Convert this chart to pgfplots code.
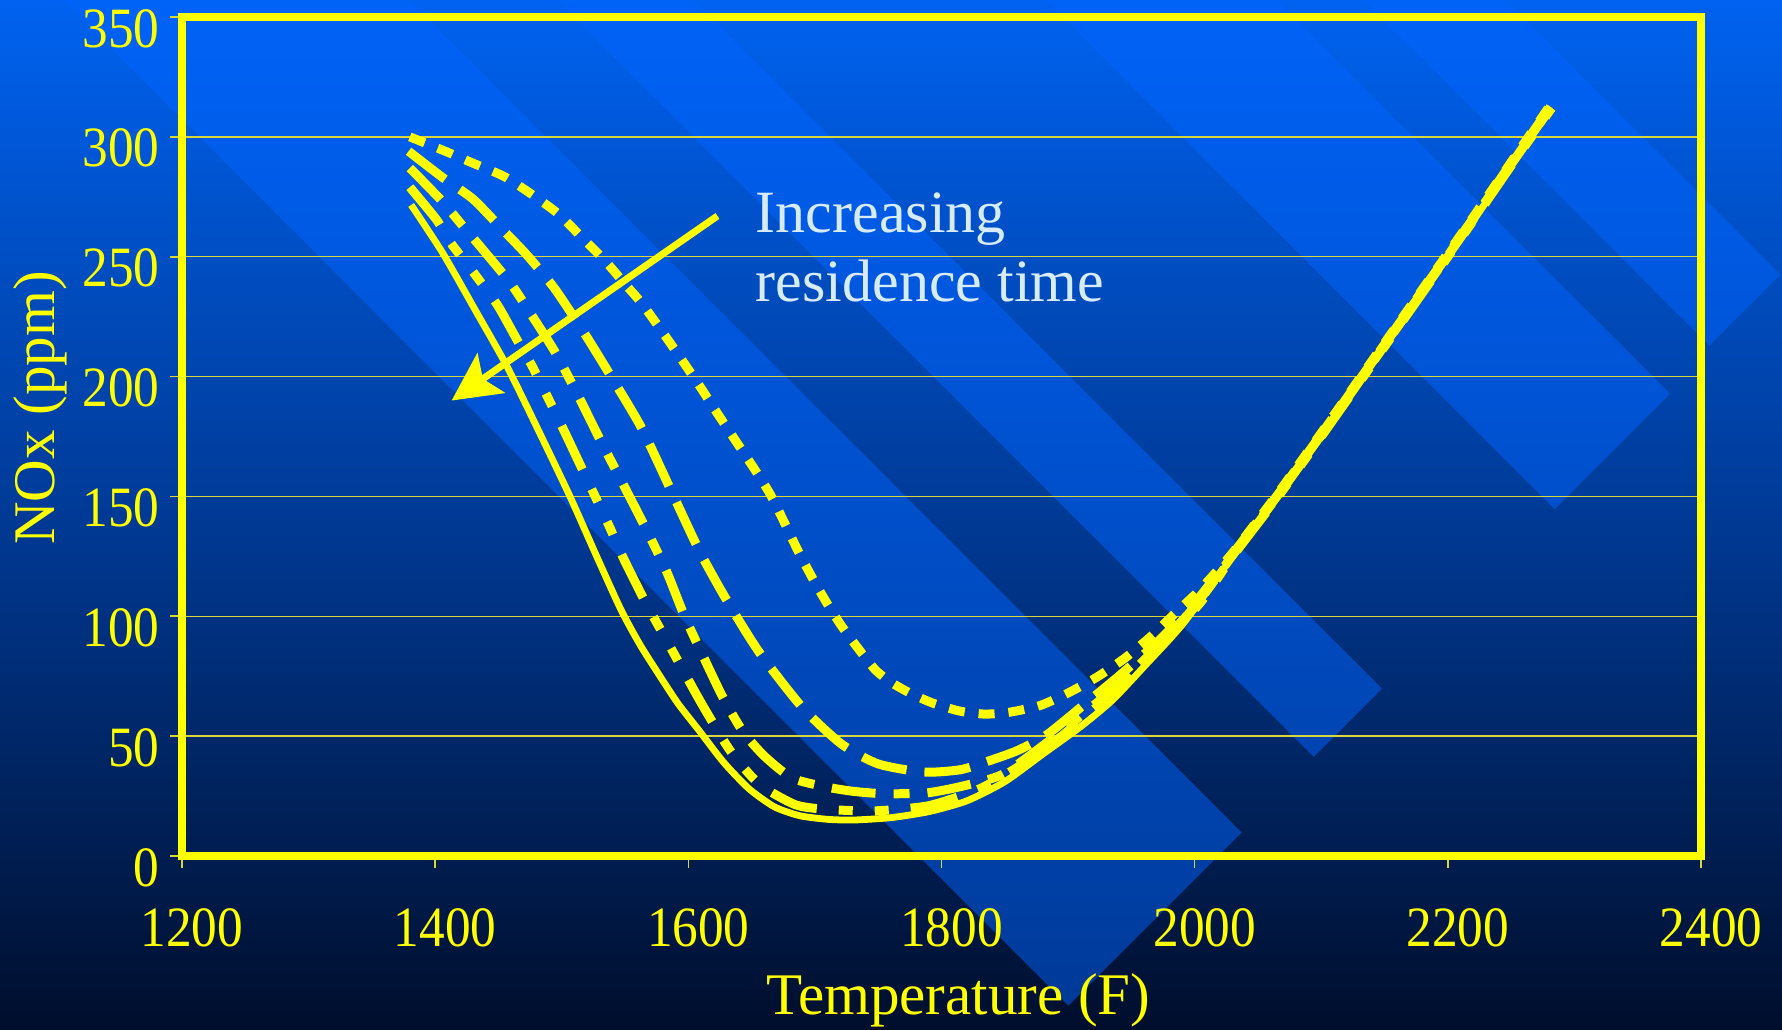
\documentclass[border=0pt]{standalone}
\usepackage{fontspec}
\setmainfont{Liberation Serif}
\newfontfamily\tickfont{Liberation Serif}[FakeStretch=0.9]
\usepackage{pgfplots}
\pgfplotsset{compat=1.18}
\usetikzlibrary{arrows.meta}
\definecolor{bgtop}{RGB}{0,98,240}
\definecolor{bgmid}{RGB}{0,58,150}
\definecolor{bgbot}{RGB}{0,14,44}
\definecolor{band}{RGB}{0,100,255}
\definecolor{ylw}{RGB}{255,255,0}
\definecolor{txtblue}{RGB}{215,235,255}
\definecolor{gridc}{RGB}{215,215,60}
\begin{document}
\begin{tikzpicture}
\useasboundingbox (-91pt,-86.5pt) rectangle (800pt,428pt);
\shade[top color=bgtop, bottom color=bgbot, middle color=bgmid] (-91pt,-86.5pt) rectangle (800pt,428pt);
\begin{scope}[shift={(-91pt,428pt)}, x=0.56824pt, y=-0.56824pt]
  \clip (0,0) rectangle (1568,905);
  \fill[band, opacity=0.5] (-72.5,-127.5) -- (940,885) -- (1092.5,732.5) -- (80,-280) -- cycle;
  \fill[band, opacity=0.5] (145,-345) -- (1156,666) -- (1216,606) -- (205,-405) -- cycle;
  \fill[band, opacity=0.5] (360,-560) -- (1368,448) -- (1469.5,346.5) -- (461.5,-661.5) -- cycle;
  \fill[band, opacity=0.5] (500,-700) -- (1504,304) -- (1566.5,241.5) -- (562.5,-762.5) -- cycle;
\end{scope}
\begin{axis}[
  overlay,
  at={(0,0)}, anchor=south west,
  width=759.5pt, height=419.5pt, scale only axis,
  xmin=1200, xmax=2400, ymin=0, ymax=350,
  xtick={1200,1400,...,2400}, ytick={0,50,...,350},
  axis line style={ylw, line width=4pt},
  ymajorgrids, grid style={gridc, line width=0.7pt},
  tick style={gridc, line width=0.8pt}, tick align=outside, major tick length=6pt,
  xtick pos=bottom, ytick pos=left,
  ticklabel style={ylw, font=\tickfont\fontsize{28.5}{30}\selectfont},
  /pgf/number format/assume math mode=true, /pgf/number format/1000 sep={},
  scaled ticks=false,
  yticklabel style={anchor=east, inner sep=0pt, xshift=-5pt, yshift=-5.7pt},
  xticklabel style={anchor=base, inner sep=0pt, xshift=5pt, yshift=-39pt},
  xlabel={Temperature (F)}, ylabel={NOx (ppm)},
  label style={ylw, font=\fontsize{29.5}{32}\selectfont},
  xlabel style={at={(axis description cs:0.511,-0.1895)}, anchor=base, inner sep=0pt},
  ylabel style={at={(axis description cs:-0.0935,0.534)}, anchor=center, inner sep=0pt},
  every axis plot/.append style={ylw, line cap=butt, line join=round, smooth, tension=0.4},
]
% A: outermost, short dashes
\addplot[line width=4.5pt, dash pattern=on 8pt off 7pt] coordinates {
(1380,300) (1408,294) (1430,289) (1454,283.6) (1475,276.5) (1497,268) (1516,258) (1533,249) (1551,238) (1564,230) (1587,213) (1609,196) (1625,183) (1654,160) (1665,150.6) (1676,139) (1686,128) (1698,116) (1710,105) (1721,96) (1735,86) (1748,77.5) (1760,72.5) (1775,68) (1793,63.8) (1814,60.5) (1834,59.2) (1854,60) (1878,62.8) (1900,68) (1923,74.7) (1945,82.6) (1965,91.4) (1984,101) (2004,111) (2030,126.5) (2066,151.5) (2100,176.5) (2140,206.5) (2180,236.5) (2220,266.5) (2250,289.5) (2280,312.5)
};
% B: long dashes
\addplot[line width=4.5pt, dash pattern=on 23pt off 9pt] coordinates {
(1379,294) (1406,283) (1430,274) (1452,262) (1472,251) (1494,237) (1518,218) (1539,200) (1563,178.6) (1588,150.6) (1609,127) (1630,107) (1656,85) (1690,62) (1721,46.7) (1750,38.4) (1786,35) (1815,36) (1837,39.6) (1860,44) (1883,50.5) (1910,62) (1940,75) (1970,89) (2000,105.5) (2030,126) (2066,151) (2100,176) (2140,206) (2180,236) (2220,266) (2250,289) (2281,312.5)
};
% C: dash-dot
\addplot[line width=4.5pt, dash pattern=on 22pt off 9pt on 8pt off 9pt] coordinates {
(1380,287) (1404,274) (1420,264) (1440,251.5) (1460,238.6) (1477,225) (1495,210) (1513,192) (1530,174) (1548,155.6) (1567,136) (1583,118.5) (1597,100) (1612,83) (1627,66.5) (1643,52) (1660,41.7) (1682,32.5) (1709,28.8) (1730,27) (1754,26) (1788,26.3) (1817,29.2) (1848,34) (1880,46) (1910,58.5) (1940,71.5) (1970,87) (2000,104) (2030,125.5) (2066,150.5) (2100,175.5) (2140,205.5) (2180,235.5) (2220,265.5) (2250,288.5) (2281,312)
};
% D: dash-dot-dot
\addplot[line width=4.5pt, dash pattern=on 24pt off 11pt on 7pt off 11pt on 7pt off 11pt] coordinates {
(1380,279) (1401,265.5) (1412,256) (1428,245) (1449,230) (1465,215) (1477,204) (1493,187) (1504,175) (1521,156) (1538,137) (1548,125) (1566,106) (1587,86) (1610,64) (1633,44) (1656,30) (1684,21.5) (1706,19.6) (1746,18.8) (1790,21) (1830,28) (1860,37) (1890,48) (1920,61) (1950,76) (1980,92) (2005,106) (2030,125) (2066,150) (2100,175) (2140,205) (2180,235) (2220,265) (2250,288) (2282,312)
};
% E: solid
\addplot[line width=3.4pt] coordinates {
(1381,271.6) (1406,251.5) (1433,226.5) (1457,204) (1483,176) (1506.5,150) (1528,124.5) (1547,102.5) (1562,88) (1577,75.5) (1592,63.5) (1609,52) (1628,39) (1648,28) (1668,20.5) (1688,16.8) (1710,15.3) (1730,15) (1760,16) (1790,18.5) (1820,23) (1850,31) (1880,42.5) (1910,54) (1935,65) (1960,79) (1991,97) (2030,125) (2066,150) (2100,175) (2140,205) (2180,235) (2220,265) (2250,288) (2282,312)
};
\draw[ylw, line width=3.5pt, -{Stealth[length=24pt,width=24pt,inset=5pt]}] (axis cs:1623,267) -- (axis cs:1413,190);
\node[anchor=base west, inner sep=0pt, text=txtblue, font=\fontsize{30}{36}\selectfont] at (axis cs:1653,260) {Increasing};
\node[anchor=base west, inner sep=0pt, text=txtblue, font=\fontsize{30}{36}\selectfont] at (axis cs:1653,231.5) {residence time};
\end{axis}
\end{tikzpicture}
\end{document}
